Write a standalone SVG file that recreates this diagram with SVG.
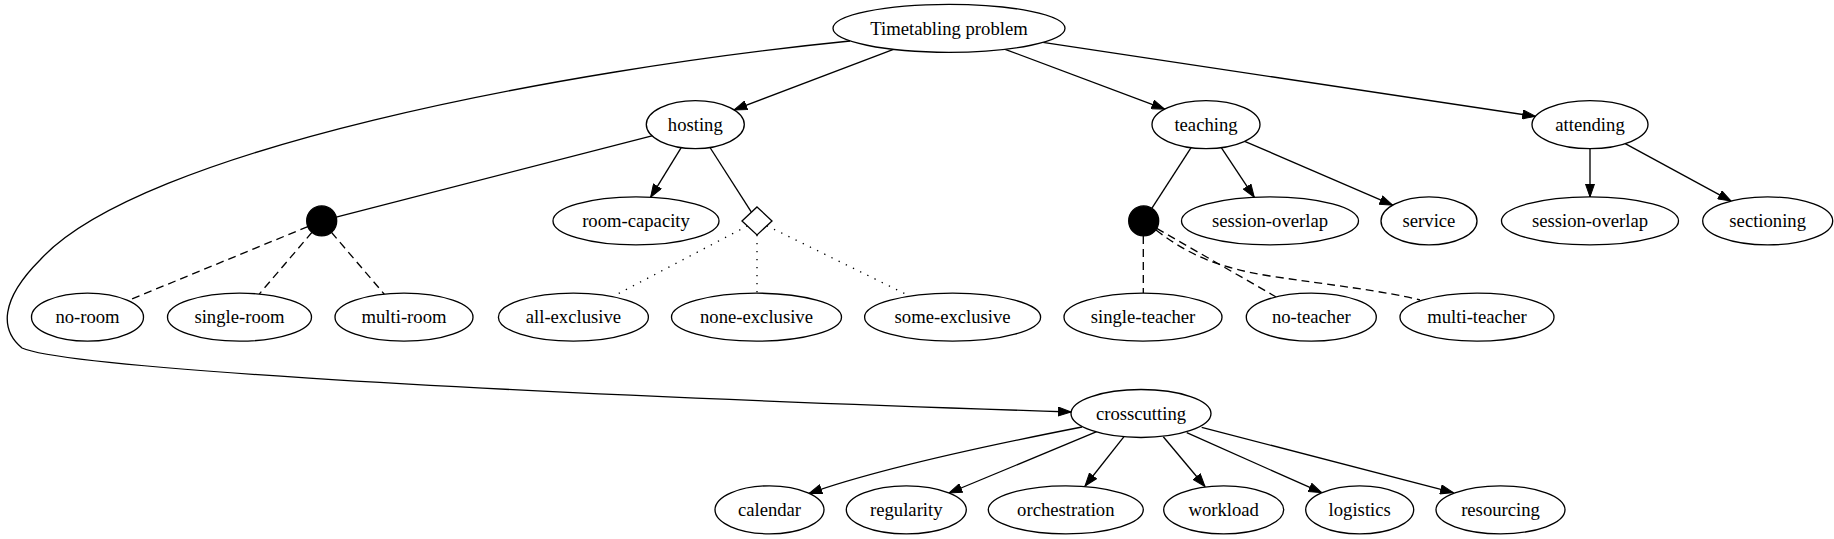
<svg xmlns="http://www.w3.org/2000/svg" width="1834" height="539" viewBox="0 0 1834 539">
<defs>
<style>
.node ellipse{fill:#fff;stroke:#000;stroke-width:1.33}
.node text{font-family:"Liberation Serif","Times New Roman",serif;font-size:18.67px;text-anchor:middle;fill:#000}
.dot{fill:#000;stroke:#000;stroke-width:1.33}
.diam{fill:#fff;stroke:#000;stroke-width:1.33}
.edges path{fill:none;stroke:#000;stroke-width:1.33}
.edges .arr{marker-end:url(#ah)}
.edges .dashed{stroke-dasharray:8,5}
.edges .dotted{stroke-dasharray:1.33,6.67}
</style>
<marker id="ah" viewBox="0 0 14 10" refX="13.3" refY="5" markerWidth="14" markerHeight="10" markerUnits="userSpaceOnUse" orient="auto">
<path d="M0.5,0.5 L13.3,5 L0.5,9.5 Z" fill="#000" stroke="#000" stroke-width="1"/>
</marker>
</defs>
<rect width="1834" height="539" fill="#fff"/>
<g class="edges" id="edges">
<path class="arr" d="M893.5,49.4 L734,109.9"/>
<path class="arr" d="M1005.1,49.3 L1164.7,109.1"/>
<path class="arr" d="M1042.9,42.4 L1535.5,116.4"/>
<path class="arr" d="M850,41 C560,70 140,150 40,260 C0,300 0,330 22,348 C60,365 400,390 1071,412"/>
<path d="M651.9,135.8 L336.2,217.2"/>
<path class="arr" d="M681.2,147.6 L650.6,197.3"/>
<path d="M710,147.5 L751.4,212.1"/>
<path d="M1191.1,147.7 L1151.8,208.3"/>
<path class="arr" d="M1221.3,147.6 L1254.3,197.3"/>
<path class="arr" d="M1244.7,141.3 L1392.7,205.2"/>
<path class="arr" d="M1590,148.6 L1590,196.9"/>
<path class="arr" d="M1625.2,143.7 L1731.1,201.1"/>
<path class="dashed" d="M307.8,226.6 L127.9,300.6"/>
<path class="dashed" d="M312,232.3 L259.2,294.1"/>
<path class="dashed" d="M331.4,232.3 L384.3,294.2"/>
<path class="dotted" d="M747.4,225.9 L612.5,296.7"/>
<path class="dotted" d="M757,234.9 L757,293.2"/>
<path class="dotted" d="M766.8,225.7 L910,296.2"/>
<path class="dashed" d="M1143.3,235.9 L1143.3,293.2"/>
<path class="dashed" d="M1156.7,228.4 L1276.2,297"/>
<path class="dashed" d="M1156,230 C1190,256 1220,268 1270,276 C1330,285 1385,291 1420,300"/>
<path class="arr" d="M1082,427 C990,445 880,468 809,493.5"/>
<path class="arr" d="M1096.7,431.7 L949,493"/>
<path class="arr" d="M1124,436.7 L1085,486"/>
<path class="arr" d="M1163.3,436.7 L1205,486.5"/>
<path class="arr" d="M1186.7,432.7 L1321.7,492.7"/>
<path class="arr" d="M1201.7,427.3 L1453.3,492.7"/>
</g>
<g class="node" id="n_timetabling"><ellipse cx="949" cy="28.3" rx="116" ry="24"/><text x="949" y="34.5">Timetabling problem</text></g>
<g class="node" id="n_hosting"><ellipse cx="695.3" cy="124.6" rx="49" ry="24"/><text x="695.3" y="130.8">hosting</text></g>
<g class="node" id="n_teaching"><ellipse cx="1206" cy="124.6" rx="54" ry="24"/><text x="1206" y="130.8">teaching</text></g>
<g class="node" id="n_attending"><ellipse cx="1590" cy="124.6" rx="58" ry="24"/><text x="1590" y="130.8">attending</text></g>
<g class="node" id="n_room_or"><circle class="dot" cx="321.7" cy="220.9" r="15"/></g>
<g class="node" id="n_room_capacity"><ellipse cx="636" cy="220.9" rx="83" ry="24"/><text x="636" y="227.1">room-capacity</text></g>
<g class="node" id="n_excl_xor"><polygon class="diam" points="757,206.9 772,220.9 757,234.9 742,220.9"/></g>
<g class="node" id="n_teacher_or"><circle class="dot" cx="1143.7" cy="220.9" r="15"/></g>
<g class="node" id="n_session_overlap_t"><ellipse cx="1270" cy="220.9" rx="88.5" ry="24"/><text x="1270" y="227.1">session-overlap</text></g>
<g class="node" id="n_service"><ellipse cx="1429" cy="220.9" rx="48" ry="24"/><text x="1429" y="227.1">service</text></g>
<g class="node" id="n_session_overlap_a"><ellipse cx="1590" cy="220.9" rx="88.5" ry="24"/><text x="1590" y="227.1">session-overlap</text></g>
<g class="node" id="n_sectioning"><ellipse cx="1767.7" cy="220.9" rx="65" ry="24"/><text x="1767.7" y="227.1">sectioning</text></g>
<g class="node" id="n_no_room"><ellipse cx="87.5" cy="317.2" rx="56" ry="24"/><text x="87.5" y="323.4">no-room</text></g>
<g class="node" id="n_single_room"><ellipse cx="239.5" cy="317.2" rx="72" ry="24"/><text x="239.5" y="323.4">single-room</text></g>
<g class="node" id="n_multi_room"><ellipse cx="404" cy="317.2" rx="69" ry="24"/><text x="404" y="323.4">multi-room</text></g>
<g class="node" id="n_all_exclusive"><ellipse cx="573.4" cy="317.2" rx="75" ry="24"/><text x="573.4" y="323.4">all-exclusive</text></g>
<g class="node" id="n_none_exclusive"><ellipse cx="756.5" cy="317.2" rx="85" ry="24"/><text x="756.5" y="323.4">none-exclusive</text></g>
<g class="node" id="n_some_exclusive"><ellipse cx="952.6" cy="317.2" rx="88" ry="24"/><text x="952.6" y="323.4">some-exclusive</text></g>
<g class="node" id="n_single_teacher"><ellipse cx="1143" cy="317.2" rx="79" ry="24"/><text x="1143" y="323.4">single-teacher</text></g>
<g class="node" id="n_no_teacher"><ellipse cx="1311.3" cy="317.2" rx="65" ry="24"/><text x="1311.3" y="323.4">no-teacher</text></g>
<g class="node" id="n_multi_teacher"><ellipse cx="1477" cy="317.2" rx="77" ry="24"/><text x="1477" y="323.4">multi-teacher</text></g>
<g class="node" id="n_crosscutting"><ellipse cx="1141" cy="413.5" rx="70" ry="24"/><text x="1141" y="419.7">crosscutting</text></g>
<g class="node" id="n_calendar"><ellipse cx="769.5" cy="509.8" rx="54.5" ry="24"/><text x="769.5" y="516">calendar</text></g>
<g class="node" id="n_regularity"><ellipse cx="906.3" cy="509.8" rx="60" ry="24"/><text x="906.3" y="516">regularity</text></g>
<g class="node" id="n_orchestration"><ellipse cx="1065.8" cy="509.8" rx="77.5" ry="24"/><text x="1065.8" y="516">orchestration</text></g>
<g class="node" id="n_workload"><ellipse cx="1223.7" cy="509.8" rx="60" ry="24"/><text x="1223.7" y="516">workload</text></g>
<g class="node" id="n_logistics"><ellipse cx="1359.7" cy="509.8" rx="54" ry="24"/><text x="1359.7" y="516">logistics</text></g>
<g class="node" id="n_resourcing"><ellipse cx="1500.5" cy="509.8" rx="64.5" ry="24"/><text x="1500.5" y="516">resourcing</text></g>
</svg>
